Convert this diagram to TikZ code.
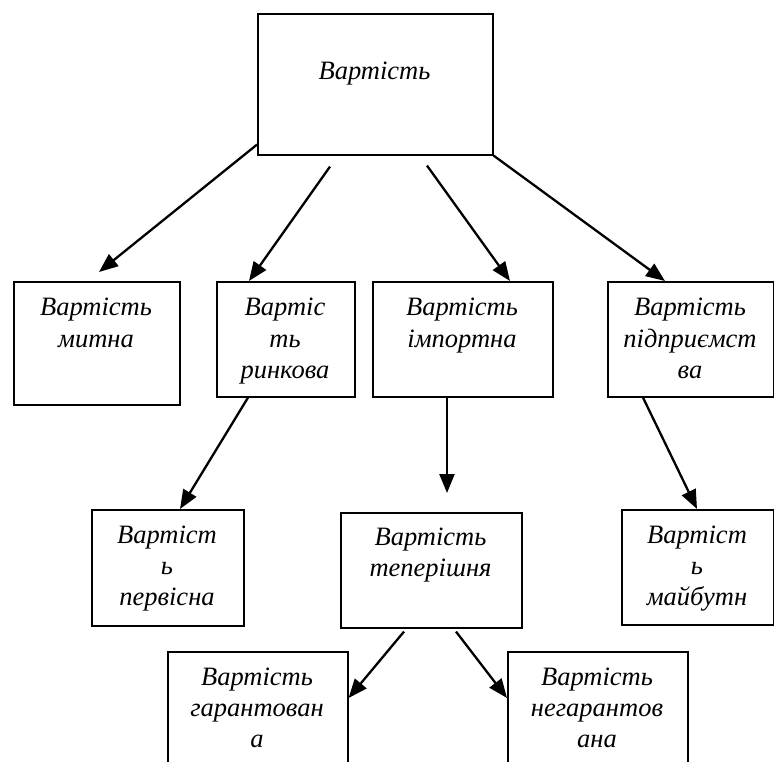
\documentclass[tikz,border=0pt]{standalone}
\usepackage{fontspec}
\setmainfont{Liberation Serif}
\usetikzlibrary{arrows.meta,calc}
\tikzset{
  boxst/.style={draw, line width=1.6pt, inner sep=0pt, anchor=north west},
  lbl/.style={anchor=base, inner sep=0pt, font=\fontsize{26.5}{31.3}\selectfont\itshape},
  arr/.style={line width=2.3pt, -{Triangle[length=19pt,width=15pt]}}
}
\newcommand\lines[1]{\parbox[t]{230pt}{\centering #1}}
\begin{document}
\begin{tikzpicture}[x=1pt,y=-1pt]
\useasboundingbox (0,0) rectangle (774,762);
\clip (0,0) rectangle (774,762);
% boxes
\node[boxst, minimum width=235pt, minimum height=141pt] (top) at (257,13) {};
\node[boxst, minimum width=166pt, minimum height=123pt] (mytna) at (13,281) {};
\node[boxst, minimum width=138pt, minimum height=115pt] (rynk) at (216,281) {};
\node[boxst, minimum width=180pt, minimum height=115pt] (imp) at (372,281) {};
\node[boxst, minimum width=166pt, minimum height=115pt] (pidpr) at (607,281) {};
\node[boxst, minimum width=152pt, minimum height=116pt] (pervis) at (91,509) {};
\node[boxst, minimum width=181pt, minimum height=115pt] (teper) at (340,512) {};
\node[boxst, minimum width=152pt, minimum height=115pt] (maib) at (621,509) {};
\node[boxst, minimum width=180pt, minimum height=130pt] (garant) at (167,651) {};
\node[boxst, minimum width=180pt, minimum height=130pt] (negar) at (507,651) {};
% texts
\node[lbl] (topt) at (374.5,80) {\lines{Вартість}};
\node[lbl] (mytnat) at (96,316) {\lines{Вартість\\митна}};
\node[lbl] (rynkt) at (285,316) {\lines{Вартіс\\ть\\ринкова}};
\node[lbl] (impt) at (462,316) {\lines{Вартість\\імпортна}};
\node[lbl] (pidprt) at (690,316) {\lines{Вартість\\підприємст\\ва}};
\node[lbl] (pervist) at (167,543) {\lines{Вартіст\\ь\\первісна}};
\node[lbl] (tepert) at (430.5,545) {\lines{Вартість\\теперішня}};
\node[lbl] (maibt) at (697,543) {\lines{Вартіст\\ь\\майбутн}};
\node[lbl] (garantt) at (257,685) {\lines{Вартість\\гарантован\\а}};
\node[lbl] (negart) at (597,685) {\lines{Вартість\\негарантов\\ана}};
% connectors
\draw[arr] ($(top.south west)+(0,-11)$) -- ($(mytna.north west)+(86,-9)$);
\draw[arr] ($(top.south west)+(73,11)$) -- ($(rynk.north west)+(33,0)$);
\draw[arr] ($(top.south west)+(170,10)$) -- ($(imp.north west)+(138,0)$);
\draw[arr] (top.south east) -- ($(pidpr.north west)+(58,0)$);
\draw[arr] ($(rynk.south west)+(32,0)$) -- ($(pervis.north west)+(89,0)$);
\draw[arr] ($(imp.south west)+(75,0)$) -- ($(teper.north west)+(107,-19)$);
\draw[arr] ($(pidpr.south west)+(36,0)$) -- ($(maib.north west)+(76,0)$);
\draw[arr] ($(teper.south west)+(64,3)$) -- ($(garant.north east)+(0,47)$);
\draw[arr] ($(teper.south west)+(116,3)$) -- ($(negar.north west)+(0,47)$);
\end{tikzpicture}
\end{document}
